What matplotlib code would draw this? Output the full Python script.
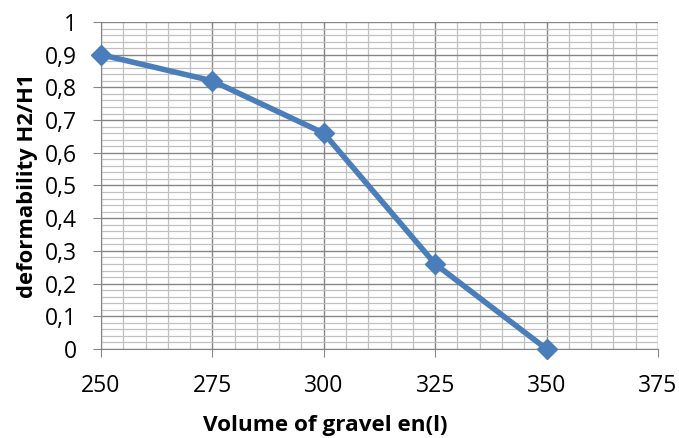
import matplotlib
matplotlib.use("Agg")
import matplotlib.pyplot as plt
from matplotlib.ticker import MultipleLocator, FuncFormatter

volume = [250, 275, 300, 325, 350]
deformability = [0.9, 0.82, 0.66, 0.26, 0.0]
x_ticks = [250, 275, 300, 325, 350, 375]

plt.rcParams['font.family'] = ['Open Sans', 'DejaVu Sans']

fig = plt.figure(figsize=(6.79, 4.38), dpi=100)
ax = fig.add_axes([0.1487, 0.2032, 0.8203, 0.7466])

ax.set_xlim(250, 375)
ax.set_ylim(0, 1)
ax.set_xticks(x_ticks)
ax.xaxis.set_minor_locator(MultipleLocator(5))
ax.yaxis.set_major_locator(MultipleLocator(0.1))
ax.yaxis.set_minor_locator(MultipleLocator(0.02))
ax.yaxis.set_major_formatter(FuncFormatter(lambda v, p: ('%g' % round(v, 2)).replace('.', ',')))

ax.grid(which='major', color='#868686', linewidth=1.0)
ax.grid(which='minor', color='#c0c0c0', linewidth=0.9)
ax.set_axisbelow(True)
for s in ax.spines.values():
    s.set_color('#868686')
ax.spines['top'].set_visible(False)
ax.spines['right'].set_visible(False)

ax.tick_params(which='major', direction='out', length=6, color='#868686', labelsize=16.5, pad=11)
ax.tick_params(which='minor', length=0)
ax.tick_params(axis='x', pad=12)

ax.plot(volume, deformability, color='#4a7ebb', linewidth=4, marker='D',
        markersize=10, markerfacecolor='#4a7ebb', markeredgecolor='#4a7ebb', clip_on=False, zorder=5)

ax.set_xlabel('Volume of gravel en(l)', fontsize=16.2, fontweight='bold')
ax.xaxis.set_label_coords((325 - 101) / 557, -0.203)
ax.set_ylabel('deformability H2/H1', fontsize=15.8, fontweight='bold', labelpad=5)

fig.savefig('out.png', dpi=100)
